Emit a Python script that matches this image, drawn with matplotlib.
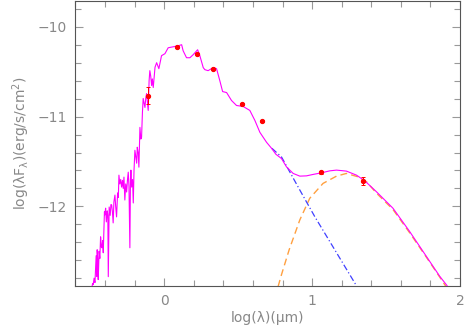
import matplotlib
matplotlib.use("Agg")
import matplotlib.pyplot as plt
from matplotlib.ticker import MultipleLocator

# model spectrum (star + disk), log(lambda/um) vs log(lambda F_lambda)
spec_x = [-0.489, -0.484, -0.480, -0.474, -0.468, -0.460, -0.456, -0.453, -0.449, -0.446,
          -0.440, -0.435, -0.430, -0.425, -0.421, -0.416, -0.412, -0.407, -0.404, -0.401,
          -0.396, -0.391, -0.385, -0.381, -0.378, -0.372, -0.365, -0.360, -0.355, -0.350,
          -0.345, -0.340, -0.333, -0.328, -0.322, -0.315, -0.310, -0.306, -0.300, -0.294,
          -0.288, -0.282, -0.277, -0.272, -0.266, -0.260, -0.254, -0.248, -0.243, -0.238,
          -0.232, -0.228, -0.225, -0.220, -0.214, -0.209, -0.204, -0.198, -0.192, -0.186,
          -0.182, -0.176, -0.171, -0.167, -0.164, -0.158, -0.153, -0.147, -0.142, -0.136,
          -0.130, -0.125, -0.119, -0.113, -0.108, -0.102, -0.097, -0.091, -0.085, -0.080,
          -0.074, -0.062, -0.051, -0.036, -0.018, 0.005, 0.027,
          0.061, 0.095, 0.118, 0.128, 0.151, 0.174, 0.196, 0.226, 0.241, 0.264,
          0.275, 0.297, 0.331, 0.354, 0.376, 0.395, 0.422, 0.455, 0.489, 0.534,
          0.579, 0.613, 0.647, 0.692, 0.726, 0.755, 0.793, 0.827, 0.872, 0.917,
          0.962, 1.007, 1.064, 1.120, 1.165, 1.232, 1.300, 1.356, 1.435, 1.547,
          1.660, 1.773, 1.863, 1.912, 1.944]
spec_y = [-12.905, -12.860, -12.871, -12.800, -12.849, -12.550, -12.780, -12.483, -12.600, -12.816,
          -12.500, -12.580, -12.339, -12.450, -12.461, -12.380, -12.517, -12.217, -12.060, -12.095,
          -12.020, -12.173, -12.050, -12.100, -12.783, -12.007, -12.100, -11.980, -11.985, -12.060,
          -12.184, -11.950, -11.874, -12.000, -12.117, -11.850, -11.900, -11.652, -11.750, -11.700,
          -11.785, -11.710, -11.800, -11.674, -11.929, -11.750, -11.840, -11.700, -11.619, -11.780,
          -12.461, -11.700, -11.596, -11.785, -11.700, -11.962, -11.600, -11.375, -11.450, -11.519,
          -11.341, -11.400, -11.563, -11.300, -11.120, -11.250, -11.231, -10.950, -10.798, -10.850,
          -10.898, -10.800, -10.743, -10.850, -10.931, -10.600, -10.488, -10.550, -10.654, -10.580,
          -10.676, -10.450, -10.399, -10.466, -10.321, -10.299, -10.233,
          -10.222, -10.211, -10.199, -10.266, -10.344, -10.344, -10.310, -10.255, -10.321, -10.454,
          -10.477, -10.488, -10.454, -10.466, -10.599, -10.721, -10.732, -10.820, -10.876, -10.887,
          -10.931, -11.042, -11.175, -11.286, -11.353, -11.419, -11.467, -11.560, -11.633, -11.663,
          -11.660, -11.644, -11.626, -11.604, -11.596, -11.607, -11.652, -11.715, -11.837, -12.021,
          -12.281, -12.558, -12.779, -12.882, -12.993]

# disk blackbody component
disk_x = [0.770, 0.793, 0.845, 0.917, 0.984, 1.074, 1.165, 1.232, 1.311, 1.368,
          1.435, 1.547, 1.660, 1.773, 1.863, 1.910]
disk_y = [-12.894, -12.761, -12.483, -12.151, -11.910, -11.744, -11.663, -11.633, -11.671, -11.726,
          -11.852, -12.035, -12.295, -12.567, -12.788, -12.905]

# stellar photosphere tail
star_x = [0.728, 0.793, 0.917, 1.018, 1.295, 1.309]
star_y = [-11.353, -11.449, -11.818, -12.114, -12.871, -12.916]

# photometry
phot_x = [-0.108, 0.088, 0.219, 0.331, 0.523, 0.662, 1.063, 1.345]
phot_y = [-10.765, -10.222, -10.303, -10.469, -10.857, -11.050, -11.622, -11.715]
phot_err = [0.095, 0.01, 0.01, 0.01, 0.01, 0.01, 0.015, 0.045]

fig = plt.figure(figsize=(4.65, 3.27), dpi=100)
ax = fig.add_axes([75/465, 1 - 286/327, 385/465, 285/327])

ax.plot(spec_x, spec_y, color='#ff00ff', lw=0.8, zorder=3)
ax.plot(disk_x, disk_y, color='#ffa040', lw=1.0, ls=(0, (5, 3)), zorder=2)
ax.plot(star_x, star_y, color='#4040ff', lw=0.9, ls=(0, (5, 2, 1, 2)), zorder=2)
ax.errorbar(phot_x, phot_y, yerr=phot_err, fmt='o', color='#ff0000', ms=2.8,
            elinewidth=0.7, capsize=1.5, capthick=0.7, zorder=4)

ax.set_xlim(-0.603, 2.0)
ax.set_ylim(-12.887, -9.712)
ax.xaxis.set_major_locator(MultipleLocator(1))
ax.xaxis.set_minor_locator(MultipleLocator(0.2))
ax.yaxis.set_major_locator(MultipleLocator(1))
ax.yaxis.set_minor_locator(MultipleLocator(0.2))
ax.set_xticks([0, 1, 2])
ax.set_xticklabels(['0', '1', '2'])
ax.set_yticks([-12, -11, -10])
ax.set_yticklabels(['\u221212', '\u221211', '\u221210'])

tc = '#999999'
ax.tick_params(which='both', direction='in', top=True, right=True, color=tc,
               labelcolor='#888888', labelsize=10)
ax.tick_params(which='major', length=6, width=0.8, pad=6)
ax.tick_params(which='minor', length=4, width=0.8)
for s in ax.spines.values():
    s.set_color('#555555')
    s.set_linewidth(0.8)

ax.set_xlabel('log(λ)(μm)', color='#888888', fontsize=10, labelpad=2)
ax.set_ylabel('log(λF$_\\mathregular{λ}$)(erg/s/cm$^\\mathregular{2}$)', color='#888888',
              fontsize=10, labelpad=4)

fig.savefig('out.png', dpi=100)
